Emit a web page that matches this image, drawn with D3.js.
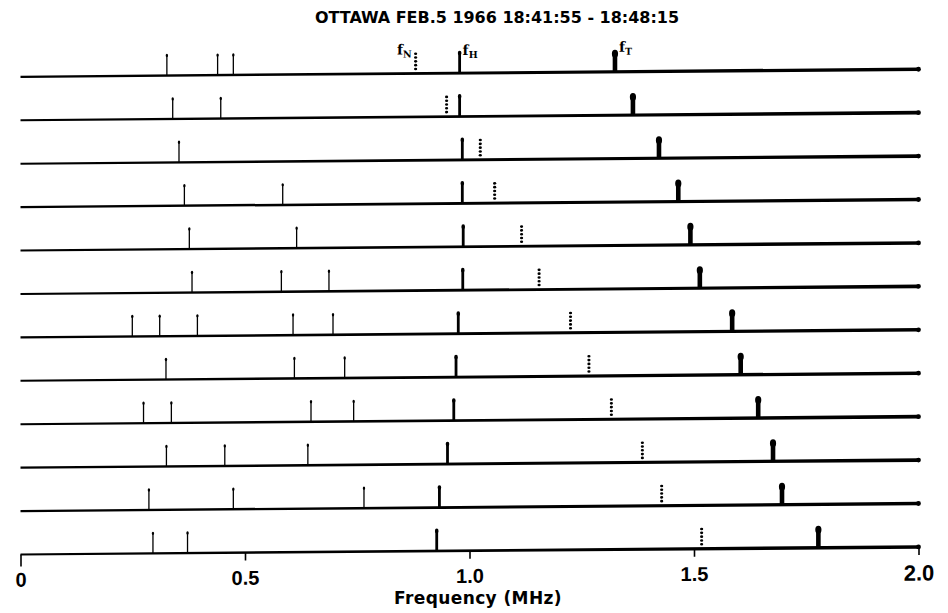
<!DOCTYPE html>
<html>
<head>
<meta charset="utf-8">
<script src="https://cdn.jsdelivr.net/npm/d3@7/dist/d3.min.js"></script>
<style>
  html, body { margin: 0; padding: 0; background: #fff; }
  svg { display: block; }
</style>
</head>
<body>
<div id="chart"></div>
<script>
// ---------- data (MHz) ----------
const rowIds = d3.range(12); // 12 successive ionograms, top to bottom
const thinResonances = [
  [0.326, 0.439, 0.474],
  [0.339, 0.446],
  [0.353],
  [0.365, 0.584],
  [0.376, 0.615],
  [0.382, 0.581, 0.687],
  [0.249, 0.310, 0.394, 0.607, 0.696],
  [0.324, 0.610, 0.722],
  [0.274, 0.336, 0.647, 0.742],
  [0.325, 0.455, 0.640],
  [0.286, 0.474, 0.765],
  [0.295, 0.372]
];
const fN = [0.880, 0.949, 1.024, 1.056, 1.116, 1.155, 1.225, 1.266, 1.316, 1.385, 1.428, 1.517];
const fH = [0.978, 0.978, 0.984, 0.984, 0.986, 0.985, 0.975, 0.970, 0.965, 0.951, 0.933, 0.927];
const fT = [1.324, 1.364, 1.422, 1.465, 1.492, 1.513, 1.585, 1.604, 1.643, 1.676, 1.696, 1.777];
const tickValues = [0, 0.5, 1.0, 1.5, 2.0];
const tickLabels = ["0", "0.5", "1.0", "1.5", "2.0"];
const titleText = "OTTAWA  FEB.5  1966  18:41:55 - 18:48:15";
const xLabel = "Frequency (MHz)";

// ---------- layout ----------
const W = 948, H = 613;
const svg = d3.select("#chart").append("svg").attr("width", W).attr("height", H);
svg.append("rect").attr("width", W).attr("height", H).attr("fill", "#fff");

const x = d3.scaleLinear().domain([0, 2]).range([20.5, 918.5]);
const y = d3.scalePoint().domain(rowIds).range([73, 550.7]);

// the original scan is slightly skewed (right side higher)
const skew = -0.0084, cx = 470;
const g = svg.append("g").attr("transform", `matrix(1,${skew},0,1,0,${-skew * cx})`);

// title
svg.append("text")
  .attr("x", 497).attr("y", 23)
  .attr("text-anchor", "middle")
  .attr("font-family", "'DejaVu Sans Condensed', 'DejaVu Sans', sans-serif")
  .attr("font-weight", "bold")
  .attr("font-size", 16)
  .attr("textLength", 364).attr("lengthAdjust", "spacingAndGlyphs")
  .attr("fill", "#000")
  .text(titleText);

// rows
rowIds.forEach(i => {
  const yy = y(i);
  const x0 = x(0), x1 = x(2);
  // tapered baseline, thin at left, thicker at right
  g.append("path")
    .attr("d", `M${x0},${yy - 1.0} L${x1},${yy - 1.8} L${x1},${yy + 1.8} L${x0},${yy + 1.1} Z`)
    .attr("fill", "#000");
  g.append("circle").attr("cx", x1).attr("cy", yy).attr("r", 2.4).attr("fill", "#000");

  // thin resonance spikes
  thinResonances[i].forEach(f => {
    const xx = x(f);
    g.append("line").attr("x1", xx).attr("x2", xx).attr("y1", yy).attr("y2", yy - 20)
      .attr("stroke", "#000").attr("stroke-width", 1.3);
    g.append("ellipse").attr("cx", xx).attr("cy", yy - 20).attr("rx", 1.2).attr("ry", 1.7).attr("fill", "#000");
  });

  // fH (gyrofrequency) spike
  {
    const xx = x(fH[i]);
    g.append("rect").attr("x", xx - 1.4).attr("y", yy - 20).attr("width", 2.8).attr("height", 20).attr("fill", "#000");
    g.append("ellipse").attr("cx", xx).attr("cy", yy - 20).attr("rx", 1.8).attr("ry", 2.4).attr("fill", "#000");
  }

  // fT spike (thick)
  {
    const xx = x(fT[i]);
    g.append("rect").attr("x", xx - 2.3).attr("y", yy - 17).attr("width", 4.6).attr("height", 17).attr("fill", "#000");
    g.append("ellipse").attr("cx", xx).attr("cy", yy - 18).attr("rx", 3.1).attr("ry", 4).attr("fill", "#000");
  }

  // fN (plasma frequency) dotted spike
  {
    const xx = x(fN[i]);
    d3.range(5).forEach(j => {
      g.append("ellipse").attr("cx", xx).attr("cy", yy - 4.5 - j * 3.8)
        .attr("rx", 1.6).attr("ry", 1.3).attr("fill", "#000");
    });
  }
});

// labels on top row
const y0 = y(0);
const lab = (xx, yy, sub, anchor) => {
  const t = g.append("text").attr("x", xx).attr("y", yy).attr("text-anchor", anchor)
    .attr("font-family", "'DejaVu Serif', serif").attr("font-weight", "bold")
    .attr("font-size", 14).attr("fill", "#000");
  t.append("tspan").text("f");
  t.append("tspan").attr("font-size", 9.5).attr("dy", 3).text(sub);
};
lab(x(fN[0]) - 4, y0 - 19, "N", "end");
lab(x(fH[0]) + 3, y0 - 18, "H", "start");
lab(x(fT[0]) + 4, y0 - 20, "T", "start");

// x axis on bottom row
const axis = d3.axisBottom(x)
  .tickValues(tickValues)
  .tickFormat((d, k) => tickLabels[k])
  .tickSize(8)
  .tickPadding(10);
const ax = g.append("g").attr("transform", `translate(0,${y(11)})`).call(axis);
ax.select(".domain").remove();
ax.selectAll(".tick line").attr("stroke", "#000").attr("stroke-width", 1.6)
  .attr("y2", d => (d === 0 ? 12 : 8));
ax.selectAll(".tick text")
  .attr("fill", "#000")
  .attr("font-family", "'Liberation Sans', Arial, sans-serif")
  .attr("font-weight", "bold")
  .attr("font-size", d => (d === 2 ? 22 : 20));

// axis label
svg.append("text")
  .attr("x", 478).attr("y", 604)
  .attr("text-anchor", "middle")
  .attr("font-family", "'DejaVu Sans', sans-serif")
  .attr("font-weight", "bold")
  .attr("font-size", 17)
  .attr("letter-spacing", 0.4)
  .attr("fill", "#000")
  .text(xLabel);
</script>
</body>
</html>
